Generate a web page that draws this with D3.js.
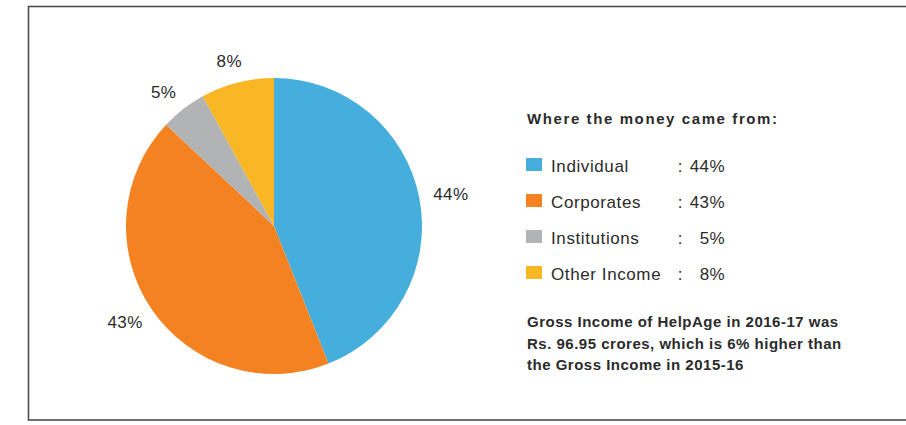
<!DOCTYPE html>
<html lang="en">
	<head>
		<meta charset="utf-8">
		<title>Where the money came from</title>
		<script type="text/javascript" src="https://cdn.jsdelivr.net/npm/d3@7"></script>
		<style type="text/css">
			body { margin: 0; background: #fff; }
			text { font-family: "Liberation Sans", Arial, sans-serif; fill: #2b2b2b; }
		</style>
	</head>
	<body>
		<script type="text/javascript">

			//Data
			var categories = ["Individual", "Corporates", "Institutions", "Other Income"];
			var shares = [44, 43, 5, 8];
			var colors = ["#45aedc", "#f58220", "#b1b3b5", "#f9b625"];
			var titleText = "Where the money came from:";
			var noteLines = [
				"Gross Income of HelpAge in 2016-17 was",
				"Rs. 96.95 crores, which is 6% higher than",
				"the Gross Income in 2015-16"
			];

			//Width and height
			var w = 906;
			var h = 425;

			var svg = d3.select("body")
						.append("svg")
						.attr("width", w)
						.attr("height", h);

			//Frame (right side runs off the picture)
			svg.append("rect")
				.attr("x", 28.5)
				.attr("y", 6.5)
				.attr("width", 900)
				.attr("height", 413.5)
				.attr("fill", "none")
				.attr("stroke", "#4d4d4d")
				.attr("stroke-width", 1.6);

			//Pie
			var cx = 274, cy = 226, r = 148;
			// labels sit on a slightly flattened ring round the pie
			var labelRx = 180, labelRy = 170;

			var pie = d3.pie()
						.sort(null)
						.value(function(d) { return d; });

			var arc = d3.arc().innerRadius(0).outerRadius(r);

			var g = svg.append("g")
						.attr("transform", "translate(" + cx + "," + cy + ")");

			var arcs = pie(shares);

			g.selectAll("path")
			   .data(arcs)
			   .enter()
			   .append("path")
			   .attr("d", arc)
			   .attr("fill", function(d, i) { return colors[i]; });

			g.selectAll("text")
			   .data(arcs)
			   .enter()
			   .append("text")
			   .attr("transform", function(d) {
					var a = (d.startAngle + d.endAngle) / 2;
					return "translate(" + (Math.sin(a) * labelRx) + "," + (-Math.cos(a) * labelRy) + ")";
			   })
			   .attr("text-anchor", "middle")
			   .attr("dy", "0.35em")
			   .style("font-size", "17px")
			   .style("letter-spacing", "0.4px")
			   .text(function(d) { return d.data + "%"; });

			//Legend
			var lx = 527;

			svg.append("text")
				.attr("x", lx)
				.attr("y", 124)
				.style("font-size", "15px")
				.style("font-weight", "bold")
				.style("letter-spacing", "1.6px")
				.text(titleText);

			var rowY = d3.scalePoint()
						.domain(categories)
						.range([172, 280]);

			var rows = svg.selectAll("g.row")
						.data(categories)
						.enter()
						.append("g")
						.attr("class", "row")
						.attr("transform", function(d) { return "translate(0," + rowY(d) + ")"; });

			rows.append("rect")
				.attr("x", lx - 1)
				.attr("y", -14)
				.attr("width", 16)
				.attr("height", 13)
				.attr("fill", function(d, i) { return colors[i]; });

			rows.append("text")
				.attr("x", 551)
				.style("font-size", "17px")
				.style("letter-spacing", "0.6px")
				.text(function(d) { return d; });

			rows.append("text")
				.attr("x", 680)
				.attr("text-anchor", "middle")
				.style("font-size", "17px")
				.text(":");

			rows.append("text")
				.attr("x", 725)
				.attr("text-anchor", "end")
				.style("font-size", "17px")
				.style("letter-spacing", "0.4px")
				.text(function(d, i) { return shares[i] + "%"; });

			//Note under the legend
			svg.selectAll("text.note")
				.data(noteLines)
				.enter()
				.append("text")
				.attr("class", "note")
				.attr("x", lx)
				.attr("y", function(d, i) { return 327 + i * 21.5; })
				.style("font-size", "15px")
				.style("font-weight", "bold")
				.style("letter-spacing", "0.5px")
				.text(function(d) { return d; });

		</script>
	</body>
</html>
